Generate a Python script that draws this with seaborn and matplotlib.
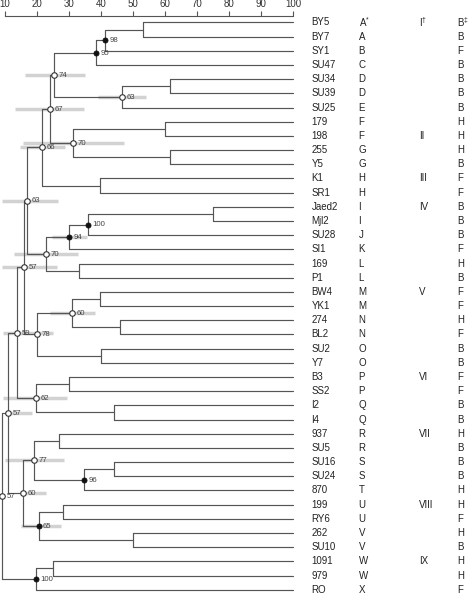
import matplotlib
matplotlib.use("Agg")
import matplotlib.pyplot as plt
import seaborn as sns
import pandas as pd

# ---------------- data ----------------
leaves = ["BY5", "BY7", "SY1", "SU47", "SU34", "SU39", "SU25", "179", "198", "255",
          "Y5", "K1", "SR1", "Jaed2", "Mjl2", "SU28", "SI1", "169", "P1", "BW4",
          "YK1", "274", "BL2", "SU2", "Y7", "B3", "SS2", "I2", "I4", "937",
          "SU5", "SU16", "SU24", "870", "199", "RY6", "262", "SU10", "1091", "979", "RO"]
col_a = ["A", "A", "B", "C", "D", "D", "E", "F", "F", "G", "G", "H", "H", "I", "I", "J",
         "K", "L", "L", "M", "M", "N", "N", "O", "O", "P", "P", "Q", "Q", "R", "R", "S",
         "S", "T", "U", "U", "V", "V", "W", "W", "X"]
col_b = ["B", "B", "F", "B", "B", "B", "B", "H", "H", "H", "B", "F", "F", "B", "B", "B",
         "F", "H", "B", "F", "F", "H", "F", "B", "B", "F", "F", "B", "B", "H", "B", "B",
         "B", "H", "H", "F", "H", "B", "H", "H", "F"]
groups = {"BY5": "I", "198": "II", "K1": "III", "Jaed2": "IV", "BW4": "V",
          "B3": "VI", "937": "VII", "199": "VIII", "1091": "IX"}

# merges: (node, left child, right child, similarity %)
merges = [
    ("n1", "BY5", "BY7", 53.0), ("n2", "n1", "SY1", 41.3), ("n3", "n2", "SU47", 38.4),
    ("n4", "SU34", "SU39", 61.7), ("n5", "n4", "SU25", 46.7), ("n6", "n3", "n5", 25.4),
    ("n7", "179", "198", 60.0), ("n8", "255", "Y5", 61.5), ("n9", "n7", "n8", 31.3),
    ("n10", "n6", "n9", 24.0), ("n11", "K1", "SR1", 39.8), ("n12", "n10", "n11", 21.7),
    ("n13", "Jaed2", "Mjl2", 74.9), ("n14", "n13", "SU28", 36.0), ("n15", "n14", "SI1", 30.0),
    ("n16", "169", "P1", 33.2), ("n17", "n15", "n16", 22.9), ("n18", "n12", "n17", 16.8),
    ("n19", "BW4", "YK1", 39.8), ("n20", "274", "BL2", 45.9), ("n21", "n19", "n20", 30.9),
    ("n22", "SU2", "Y7", 40.0), ("n23", "n21", "n22", 19.9), ("n24", "n18", "n23", 15.9),
    ("n25", "B3", "SS2", 29.9), ("n26", "I2", "I4", 44.2), ("n27", "n25", "n26", 19.7),
    ("n28", "n24", "n27", 13.8), ("n29", "937", "SU5", 26.8), ("n30", "SU16", "SU24", 44.2),
    ("n31", "n30", "870", 34.8), ("n32", "n29", "n31", 19.2), ("n33", "199", "RY6", 28.0),
    ("n34", "262", "SU10", 49.9), ("n35", "n33", "n34", 20.5), ("n36", "n32", "n35", 15.7),
    ("n37", "n28", "n36", 10.9), ("n38", "1091", "979", 25.1), ("n39", "n38", "RO", 19.7),
    ("n40", "n37", "n39", 9.0),
]
# bootstrap support: node -> (value, filled)
support = {
    "n2": (98, True), "n3": (95, True), "n5": (63, False), "n6": (74, False),
    "n9": (70, False), "n10": (67, False), "n12": (66, False), "n14": (100, True),
    "n15": (94, True), "n17": (70, False), "n18": (63, False), "n21": (60, False),
    "n23": (78, False), "n24": (57, False), "n27": (62, False), "n28": (59, False),
    "n31": (96, True), "n32": (77, False), "n35": (65, True), "n36": (60, False),
    "n37": (57, False), "n39": (100, True), "n40": (57, False),
}
# similarity ranges (grey bars): node -> (low, high)
ranges = {
    "n5": (39.1, 54.1), "n6": (16.3, 35.0), "n9": (15.5, 47.2), "n10": (13.2, 34.6),
    "n12": (14.7, 28.8), "n15": (24.6, 35.7), "n17": (12.9, 32.7), "n18": (9.2, 26.7),
    "n21": (24.1, 38.1), "n24": (9.2, 26.3), "n27": (9.5, 29.3), "n28": (9.5, 24.9),
    "n32": (10.0, 28.5), "n35": (15.0, 27.4), "n36": (14.7, 22.7), "n37": (10.0, 18.3),
}
ticks = [10, 20, 30, 40, 50, 60, 70, 80, 90, 100]

# ---------------- layout ----------------
sns.set_theme(style="white")
plt.rcParams["font.family"] = ["Liberation Sans", "DejaVu Sans"]
plt.rcParams["mathtext.default"] = "regular"

W, H = 468, 604
fig = plt.figure(figsize=(W / 100, H / 100), dpi=100)
top_px = 15.7
ax = fig.add_axes([0, 0, 1, 1 - top_px / H])

LINE = "#555555"
pos_x = {name: 100.0 for name in leaves}
pos_y = {name: float(i) for i, name in enumerate(leaves)}
for node, a, b, s in merges:
    pos_x[node] = s
    pos_y[node] = (pos_y[a] + pos_y[b]) / 2

# grey range bars
for node, (lo, hi) in ranges.items():
    ax.plot([lo, hi], [pos_y[node], pos_y[node]], color="#d2d2d2", lw=2.5,
            solid_capstyle="butt", zorder=1)

# dendrogram lines
for node, a, b, s in merges:
    ax.plot([s, s], [pos_y[a], pos_y[b]], color=LINE, lw=0.85, zorder=2)
    for c in (a, b):
        ax.plot([s, pos_x[c]], [pos_y[c], pos_y[c]], color=LINE, lw=0.85, zorder=2)

# node markers
df = pd.DataFrame([(n, pos_x[n], pos_y[n], v, f) for n, (v, f) in support.items()],
                  columns=["node", "x", "y", "value", "filled"])
sns.scatterplot(data=df[~df.filled], x="x", y="y", ax=ax, s=16, color="white",
                edgecolor="#333333", linewidth=0.8, zorder=4, legend=False)
sns.scatterplot(data=df[df.filled], x="x", y="y", ax=ax, s=14, color="#111111",
                edgecolor="#111111", linewidth=0.5, zorder=4, legend=False)
for _, r in df.iterrows():
    ax.annotate(str(r.value), (r.x, r.y), xytext=(3.2, -0.3), textcoords="offset points",
                ha="left", va="center", fontsize=5.6, color="#444444", zorder=5)

# text columns
X_NAME, X_A, X_G, X_B = 105.8, 120.5, 139.4, 151.3
for i, name in enumerate(leaves):
    ax.text(X_NAME, i, name, ha="left", va="center", fontsize=7, color="#222222")
    a_txt = col_a[i] + (r"$^{*}$" if i == 0 else "")
    b_txt = col_b[i] + (r"$^{\ddag}$" if i == 0 else "")
    ax.text(X_A, i, a_txt, ha="left", va="center", fontsize=7, color="#222222")
    ax.text(X_B, i, b_txt, ha="left", va="center", fontsize=7, color="#222222")
    if name in groups:
        g_txt = groups[name] + (r"$^{\dag}$" if i == 0 else "")
        ax.text(X_G, i, g_txt, ha="left", va="center", fontsize=7, color="#222222")

# axes scaling: 10 -> x=5 px, 100 -> x=293 px ; row i -> y = 22.5 + 14.18 i px
px_per = 3.2
ax.set_xlim(10 - 5 / px_per, 10 + (W - 5) / px_per)
row_h = 14.18
ax.set_ylim((H - 22.5) / row_h, (top_px - 22.5) / row_h)

for sp in ["left", "right", "bottom"]:
    ax.spines[sp].set_visible(False)
ax.spines["top"].set_visible(True)
ax.spines["top"].set_bounds(10, 100)
ax.spines["top"].set_color(LINE)
ax.spines["top"].set_linewidth(0.8)
ax.xaxis.tick_top()
ax.set_xticks(ticks)
ax.set_xticklabels([str(t) for t in ticks])
ax.tick_params(axis="x", top=True, bottom=False, direction="out", length=3.5, width=0.8,
               color=LINE, labelsize=7, labelcolor="#333333", pad=1)
ax.set_yticks([])
ax.set_xlabel("")
ax.set_ylabel("")

fig.savefig("out.png", dpi=100)
